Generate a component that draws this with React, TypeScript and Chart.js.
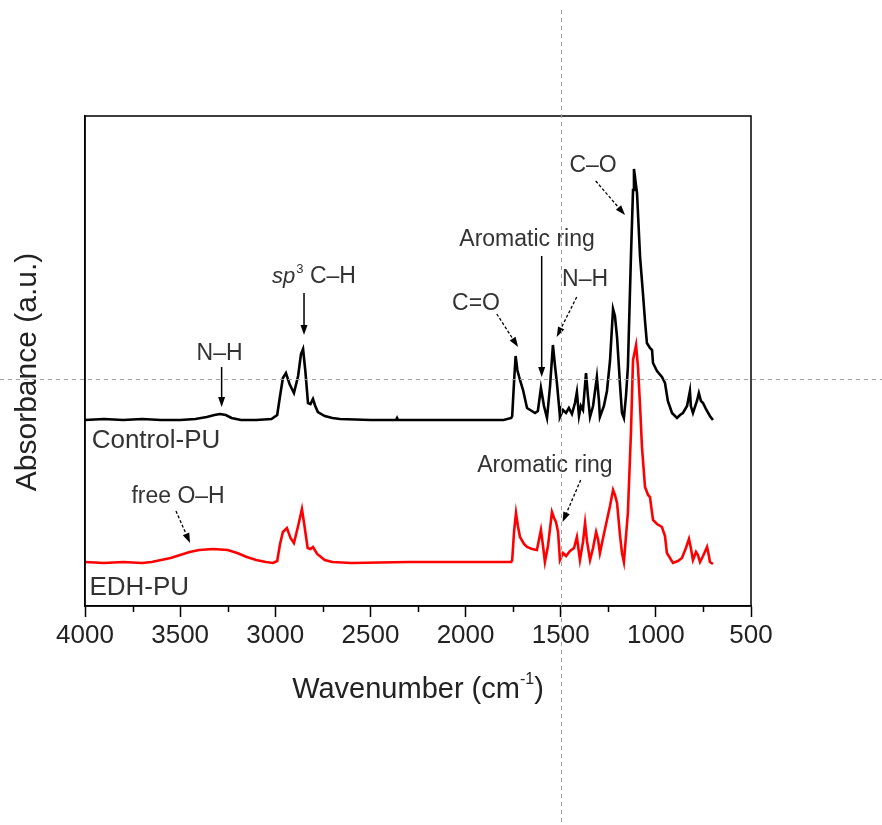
import React, { useEffect, useRef } from 'react';
import { Chart, registerables } from 'chart.js';

Chart.register(...registerables);

// ---- data (wavenumber in cm^-1, absorbance in arbitrary units) ----
const CONTROL_WN = [4000,3900,3800,3700,3600,3500,3420,3360,3320,3290,3260,3230,3180,3100,3020,2990,2975,2960,2944,2925,2902,2880,2865,2854,2842,2828,2815,2802,2790,2776,2740,2700,2660,2500,2365,2360,2355,2000,1800,1760,1755,1745,1737,1728,1714,1698,1677,1635,1620,1604,1588,1572,1556,1541,1530,1520,1509,1504,1488,1472,1457,1441,1425,1415,1404,1394,1383,1367,1357,1346,1330,1310,1299,1294,1273,1257,1241,1225,1215,1204,1188,1178,1168,1157,1147,1131,1120,1115,1104,1099,1083,1068,1057,1047,1031,1020,1015,994,968,952,937,915,889,873,858,836,821,816,805,784,774,763,752,737,716,700];
const CONTROL_ABS = [186,187,186,187,186,186,187,189,191,192,191,188,186,186,187,191,210,228,233,222,213,230,252,257,235,203,202,207,200,194,190,188,187,186,186,188,186,186,186,188,190,225,250,236,226,216,198,193,195,218,200,188,220,261,240,223,200,189,196,193,198,192,203,214,190,200,196,233,210,189,200,229,205,189,200,215,245,297,290,269,220,193,188,210,239,349,416,437,420,413,349,313,285,263,258,256,243,235,229,223,205,193,188,191,193,200,215,200,193,205,213,205,203,197,190,186];

const EDH_WN = [4000,3900,3800,3700,3650,3600,3550,3500,3450,3400,3327,3250,3200,3150,3100,3050,3012,2990,2975,2960,2939,2920,2902,2880,2860,2848,2830,2815,2802,2780,2740,2700,2600,2300,2000,1760,1755,1745,1735,1725,1714,1693,1677,1651,1625,1604,1593,1583,1567,1546,1535,1525,1514,1504,1488,1472,1451,1430,1415,1399,1383,1372,1362,1346,1330,1314,1304,1294,1273,1257,1241,1225,1215,1204,1188,1178,1168,1157,1147,1131,1120,1104,1094,1083,1073,1057,1041,1031,1015,994,968,952,942,910,884,863,842,826,816,805,789,779,768,752,731,721,716,700];
const EDH_ABS = [44,43,44,43,44,46,48,51,54,56,57,56,53,49,46,44,43,45,62,74,78,68,63,80,97,82,58,57,59,52,46,44,43,44,44,44,46,75,93,80,69,62,59,57,56,76,60,44,60,94,88,84,74,46,53,50,55,58,69,46,64,83,65,46,58,74,67,53,72,86,100,116,111,103,70,53,44,70,93,173,246,261,239,200,159,119,111,109,86,82,79,70,53,43,45,48,58,67,58,46,54,51,44,50,59,50,44,42];

const X_MIN = 500;
const X_MAX = 4000;
const X_STEP = 500;
const MINOR_TICKS = [3750,3250,2750,2250,1750,1250,750];
const Y_MIN = 0;
const Y_MAX = 490;

const SERIES_LABELS = ['Control-PU', 'EDH-PU'];
const SERIES_COLORS = ['#000000', '#ff0000'];
const SERIES_LABEL_POS = [[3965, 158], [3977, 11]];

// annotations: text, anchor (wn, abs), align, arrow from/to (wn, abs), dashed
const ANNOTATIONS = [
  { text: 'N\u2013H', at: [3293, 246], align: 'center', from: [3282, 239], to: [3282, 199], dashed: false },
  { text: 'SP3', at: [3017, 323], align: 'left', from: [2849, 313], to: [2849, 271], dashed: false },
  { text: 'C=O', at: [1945, 296], align: 'center', from: [1836, 292], to: [1724, 259], dashed: true },
  { text: 'Aromatic ring', at: [1677, 360], align: 'center', from: [1600, 350], to: [1600, 229], dashed: false },
  { text: 'N\u2013H', at: [1372, 320], align: 'center', from: [1416, 309], to: [1521, 269], dashed: true },
  { text: 'C\u2013O', at: [1330, 434], align: 'center', from: [1316, 425], to: [1162, 391], dashed: true },
  { text: 'Aromatic ring', at: [1583, 134], align: 'center', from: [1395, 126], to: [1490, 84], dashed: true },
  { text: 'free O\u2013H', at: [3511, 103], align: 'center', from: [3522, 95], to: [3448, 63], dashed: true },
];

const CROSSHAIR = [1500, 227];

const FONT = "'Liberation Sans', Arial, sans-serif";
const TEXT_COLOR = '#333333';

function drawArrow(ctx: CanvasRenderingContext2D, x1: number, y1: number, x2: number, y2: number, dashed: boolean) {
  const ang = Math.atan2(y2 - y1, x2 - x1);
  const headLen = 10;
  const headHalf = 3.5;
  const bx = x2 - headLen * Math.cos(ang);
  const by = y2 - headLen * Math.sin(ang);
  ctx.save();
  ctx.strokeStyle = '#000';
  ctx.fillStyle = '#000';
  ctx.lineWidth = dashed ? 1.3 : 1.5;
  ctx.setLineDash(dashed ? [3, 2] : []);
  ctx.beginPath();
  ctx.moveTo(x1, y1);
  ctx.lineTo(bx, by);
  ctx.stroke();
  ctx.setLineDash([]);
  ctx.beginPath();
  ctx.moveTo(x2, y2);
  ctx.lineTo(bx + headHalf * Math.sin(ang), by - headHalf * Math.cos(ang));
  ctx.lineTo(bx - headHalf * Math.sin(ang), by + headHalf * Math.cos(ang));
  ctx.closePath();
  ctx.fill();
  ctx.restore();
}

const decorPlugin = {
  id: 'decor',
  afterDraw(chart: any) {
    const ctx: CanvasRenderingContext2D = chart.ctx;
    const xs = chart.scales.x;
    const ys = chart.scales.y;
    const ca = chart.chartArea;
    ctx.save();
    // frame
    ctx.strokeStyle = '#000';
    ctx.lineWidth = 1.5;
    ctx.strokeRect(ca.left, ca.top, ca.right - ca.left, ca.bottom - ca.top);
    // minor ticks
    ctx.beginPath();
    for (const v of MINOR_TICKS) {
      const px = Math.round(xs.getPixelForValue(v)) + 0.5;
      ctx.moveTo(px, ca.bottom);
      ctx.lineTo(px, ca.bottom + 6);
    }
    ctx.stroke();

    // annotations
    ctx.fillStyle = TEXT_COLOR;
    ctx.textBaseline = 'alphabetic';
    for (const a of ANNOTATIONS) {
      const tx = xs.getPixelForValue(a.at[0]);
      const ty = ys.getPixelForValue(a.at[1]);
      if (a.text === 'SP3') {
        ctx.textAlign = 'left';
        ctx.font = `italic 22px ${FONT}`;
        ctx.fillText('sp', tx, ty);
        let w = ctx.measureText('sp').width;
        ctx.font = `13px ${FONT}`;
        ctx.fillText('3', tx + w + 1, ty - 10);
        w += ctx.measureText('3').width + 1;
        ctx.font = `23px ${FONT}`;
        ctx.fillText(' C\u2013H', tx + w, ty);
      } else {
        ctx.font = `23px ${FONT}`;
        ctx.textAlign = a.align as CanvasTextAlign;
        ctx.fillText(a.text, tx, ty);
      }
      drawArrow(ctx, xs.getPixelForValue(a.from[0]), ys.getPixelForValue(a.from[1]),
        xs.getPixelForValue(a.to[0]), ys.getPixelForValue(a.to[1]), a.dashed);
    }

    // series labels
    ctx.fillStyle = TEXT_COLOR;
    ctx.font = `26px ${FONT}`;
    ctx.textAlign = 'left';
    SERIES_LABELS.forEach((lab, i) => {
      ctx.fillText(lab, xs.getPixelForValue(SERIES_LABEL_POS[i][0]), ys.getPixelForValue(SERIES_LABEL_POS[i][1]));
    });

    // x title with superscript
    const main = 'Wavenumber (cm';
    const sup = '-1';
    const close = ')';
    ctx.font = `29px ${FONT}`;
    const wMain = ctx.measureText(main).width;
    const wClose = ctx.measureText(close).width;
    ctx.font = `16px ${FONT}`;
    const wSup = ctx.measureText(sup).width;
    const total = wMain + wSup + wClose;
    const cx = (ca.left + ca.right) / 2;
    const x0 = cx - total / 2;
    const baseY = 698;
    ctx.fillStyle = '#222';
    ctx.textAlign = 'left';
    ctx.font = `29px ${FONT}`;
    ctx.fillText(main, x0, baseY);
    ctx.font = `16px ${FONT}`;
    ctx.fillText(sup, x0 + wMain, baseY - 14);
    ctx.font = `29px ${FONT}`;
    ctx.fillText(close, x0 + wMain + wSup, baseY);

    // y title
    ctx.save();
    ctx.translate(36, (ca.top + ca.bottom) / 2 + 11);
    ctx.rotate(-Math.PI / 2);
    ctx.textAlign = 'center';
    ctx.font = `30px ${FONT}`;
    ctx.fillText('Absorbance (a.u.)', 0, 0);
    ctx.restore();

    // crosshair
    const chx = Math.round(xs.getPixelForValue(CROSSHAIR[0])) + 0.5;
    const chy = Math.round(ys.getPixelForValue(CROSSHAIR[1])) + 0.5;
    ctx.strokeStyle = '#a0a0a0';
    ctx.lineWidth = 1;
    ctx.setLineDash([4, 4]);
    ctx.beginPath();
    ctx.moveTo(chx, 10);
    ctx.lineTo(chx, chart.height);
    ctx.moveTo(0, chy);
    ctx.lineTo(chart.width, chy);
    ctx.stroke();
    ctx.restore();
  },
};

export default function App() {
  const ref = useRef<HTMLCanvasElement>(null);
  useEffect(() => {
    const canvas = ref.current!;
    const chart = new Chart(canvas, {
      type: 'line',
      data: {
        datasets: [
          {
            label: SERIES_LABELS[0],
            data: CONTROL_WN.map((x, i) => ({ x, y: CONTROL_ABS[i] })),
            borderColor: SERIES_COLORS[0],
            borderWidth: 2.6,
            pointRadius: 0,
            tension: 0,
          },
          {
            label: SERIES_LABELS[1],
            data: EDH_WN.map((x, i) => ({ x, y: EDH_ABS[i] })),
            borderColor: SERIES_COLORS[1],
            borderWidth: 2.6,
            pointRadius: 0,
            tension: 0,
          },
        ],
      },
      options: {
        responsive: false,
        animation: false,
        devicePixelRatio: 1,
        layout: { padding: { top: 116, right: 131, left: 0, bottom: 0 } },
        plugins: { legend: { display: false }, tooltip: { enabled: false } },
        scales: {
          x: {
            type: 'linear',
            reverse: true,
            min: X_MIN,
            max: X_MAX,
            ticks: {
              stepSize: X_STEP,
              font: { size: 26, family: FONT },
              color: '#222',
              padding: 3,
              maxRotation: 0,
              autoSkip: false,
              callback: (v: any) => String(v),
            },
            grid: { drawOnChartArea: false, tickLength: 11, tickColor: '#000', tickWidth: 1.5 },
            border: { color: '#000', width: 1.5 },
            afterFit: (s: any) => { s.height = 219; },
          },
          y: {
            min: Y_MIN,
            max: Y_MAX,
            ticks: { display: false },
            grid: { display: false },
            border: { color: '#000', width: 1.5 },
            afterFit: (s: any) => { s.width = 85; },
          },
        },
      } as any,
      plugins: [decorPlugin],
    });
    return () => chart.destroy();
  }, []);
  return (
    <div style={{ position: 'fixed', left: 0, top: 0, width: 882, height: 825, background: '#fff' }}>
      <canvas ref={ref} width={882} height={825} style={{ display: 'block', width: 882, height: 825 }} />
    </div>
  );
}
